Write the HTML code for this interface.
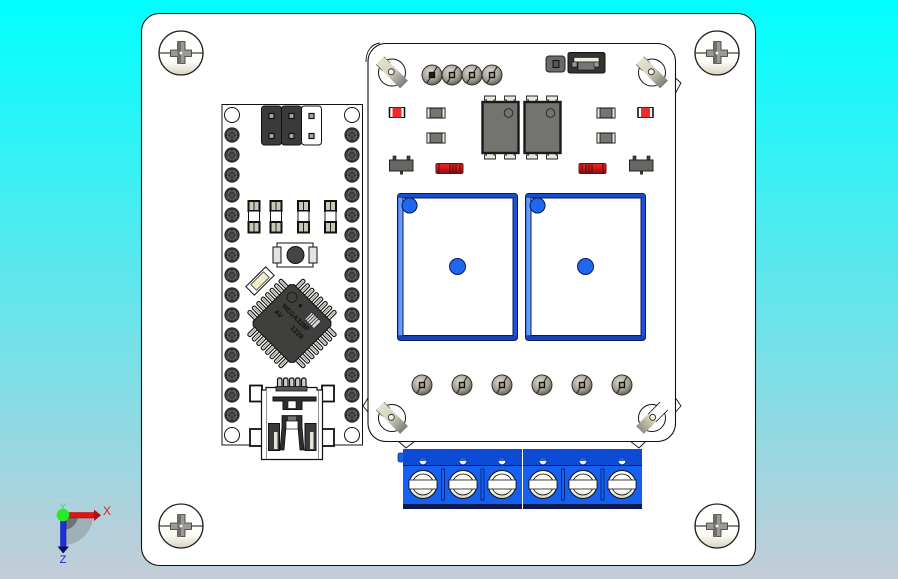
<!DOCTYPE html>
<html><head><meta charset="utf-8"><style>
html,body{margin:0;padding:0;background:#fff}
svg{display:block}
text{font-family:"Liberation Sans",sans-serif}
</style></head><body>
<svg width="898" height="579" viewBox="0 0 898 579" xmlns="http://www.w3.org/2000/svg">
<defs>
<linearGradient id="bg" x1="0" y1="0" x2="0" y2="1"><stop offset="0" stop-color="#00ffff"/><stop offset="1" stop-color="#c4ccd8"/></linearGradient>
<linearGradient id="head" x1="0" y1="0" x2="0" y2="1"><stop offset="0" stop-color="#fff"/><stop offset=".7" stop-color="#fdfdf8"/><stop offset="1" stop-color="#d8d2c0"/></linearGradient>
<radialGradient id="sm" cx=".42" cy=".35" r=".72"><stop offset="0" stop-color="#e2ded4"/><stop offset=".55" stop-color="#a8a498"/><stop offset="1" stop-color="#55524a"/></radialGradient>
<linearGradient id="tape" x1="0" y1="0" x2="0" y2="1"><stop offset="0" stop-color="#e2e2cc"/><stop offset=".45" stop-color="#d4d4c0"/><stop offset="1" stop-color="#7c7c76"/></linearGradient>
<linearGradient id="tape2" x1="0" y1="0" x2="0" y2="1"><stop offset="0" stop-color="#fff"/><stop offset=".45" stop-color="#fff"/><stop offset=".5" stop-color="#dcdabc"/><stop offset="1" stop-color="#8e8e86"/></linearGradient>
<linearGradient id="red" x1="0" y1="0" x2="0" y2="1"><stop offset="0" stop-color="#d03030"/><stop offset=".4" stop-color="#e01818"/><stop offset="1" stop-color="#801010"/></linearGradient>

<g id="bigscrew">
<circle r="22" fill="url(#head)" stroke="#222" stroke-width="1.3"/>
<path d="M-22 0H22" stroke="#111" stroke-width="1"/>
<path d="M-3.500-11.500H4V-3H10.500V3.500H4V10.500H-3.500V3.500H-10.500V-3H-3.500Z" fill="#9a9a94" stroke="#333" stroke-width=".8"/>
<path d="M-3.500-11.500H0V10.500H-3.500Z" fill="#6f6f68"/>
<circle cx="0" cy="0" r="1.500" fill="#eee"/>
</g>

<g id="pad">
<circle r="7.200" fill="#3c3c3a" stroke="#1c1c1c" stroke-width=".8"/>
<circle r="5" fill="#63635f"/>
<circle r="3.400" fill="#3a3a38"/>
<circle r="1.700" fill="#7a7a74"/>
<path d="M-7 0H7M0-7V7" stroke="#1c1c1c" stroke-width=".6"/>
</g>
<circle id="hole" r="7.500" fill="#fff" stroke="#111" stroke-width="1"/>

<g id="smd">
<rect x="-5.500" y="-16" width="11" height="10" fill="#c8c8b8" stroke="#111" stroke-width="2"/>
<rect x="-5.500" y="-6" width="11" height="11" fill="#fff" stroke="#111" stroke-width="1"/>
<rect x="-5.500" y="5" width="11" height="10.500" fill="#c8c8b8" stroke="#111" stroke-width="2"/>
<path d="M0-15V-7M0 6V15" stroke="#222"/>
</g>

<g id="qpin"><rect x="-1.900" y="-39.500" width="3.800" height="13" rx="1.600" fill="#eeeee6" stroke="#111" stroke-width="1.100"/><path d="M0-38V-30" stroke="#777" stroke-width=".7"/></g>
<g id="qrow">
<use href="#qpin" x="-22"/><use href="#qpin" x="-15.700"/><use href="#qpin" x="-9.400"/><use href="#qpin" x="-3.100"/><use href="#qpin" x="3.100"/><use href="#qpin" x="9.400"/><use href="#qpin" x="15.700"/><use href="#qpin" x="22"/>
</g>

<g id="sm10">
<circle r="10" fill="url(#sm)" stroke="#2e2e2a" stroke-width="1"/>
<path d="M-5 8 L5-8" stroke="#1c1c1c" stroke-width="1"/>
<rect x="-2.500" y="-2.500" width="5" height="5" fill="#a8a49a" stroke="#111" stroke-width="1.400"/>
</g>
<g id="sm10d">
<circle r="10" fill="url(#sm)" stroke="#2e2e2a" stroke-width="1"/>
<path d="M-5 8 L5-8" stroke="#1c1c1c" stroke-width="1"/>
<rect x="-2.500" y="-2.500" width="5" height="5" fill="#222" stroke="#111" stroke-width="1.400"/>
</g>

<g id="clip">
<circle r="13.500" fill="#fff" stroke="#111" stroke-width="1"/>
<rect x="-5.500" y="-17" width="11" height="34" fill="url(#tape)"/>
<path d="M-5.500-17V-8M5.500-17V-8" stroke="#555" stroke-width=".6"/>
<circle r="3" fill="#f4f4e8" stroke="#222" stroke-width=".8" transform="translate(0,-1)"/>
</g>
<g id="clip2">
<circle r="13.500" fill="#fff" stroke="#111" stroke-width="1"/>
<rect x="-5.500" y="-17" width="11" height="34" fill="url(#tape2)"/>
<path d="M-5.500-17V0M5.500-17V0" stroke="#111" stroke-width=".8"/>
<circle r="3" fill="#f4f4e8" stroke="#222" stroke-width=".8" transform="translate(0,-1)"/>
</g>

<g id="cap">
<rect x="-9" y="-5" width="18" height="10" fill="#757571" stroke="#111" stroke-width="1"/>
<rect x="-9" y="-5" width="3" height="10" fill="#e8e8dc" stroke="#111" stroke-width=".8"/>
<rect x="6" y="-5" width="3" height="10" fill="#e8e8dc" stroke="#111" stroke-width=".8"/>
</g>

<g id="led">
<rect x="-7.500" y="-5" width="15" height="10" fill="#fff" stroke="#111" stroke-width="1"/>
<rect x="-4.500" y="-5" width="9" height="10" fill="#ef2a2a"/>
<path d="M-7.500-5V5M7.500-5V5" stroke="#111" stroke-width="1.600"/>
</g>

<g id="opto">
<path d="M3-6H14V-2H12.500V1H5V-2H3Z M23-6H34V-2H32.500V1H25V-2H23Z" fill="#e8e8dc" stroke="#222" stroke-width=".9"/>
<path d="M5 50H12.500V53H14V57H3V53H5Z M25 50H32.500V53H34V57H23V53H25Z" fill="#e8e8dc" stroke="#222" stroke-width=".9"/>
<rect x="1" y="0" width="36" height="51" fill="#73736f" stroke="#1a1a1a" stroke-width="2.400"/>
<circle cx="27" cy="11" r="4.300" fill="none" stroke="#222" stroke-width=".9"/>
</g>

<g id="tran">
<rect x="4" y="-4" width="3" height="4" fill="#444" stroke="#111" stroke-width=".6"/>
<rect x="18" y="-4" width="3" height="4" fill="#444" stroke="#111" stroke-width=".6"/>
<rect x="11" y="11" width="3" height="3.500" fill="#333"/>
<rect x="0.500" y="0" width="23.500" height="11" fill="#666662" stroke="#222" stroke-width="1"/>
</g>

<g id="diode">
<rect x="0" y="0" width="27" height="10" rx="1.500" fill="url(#red)" stroke="#6a1010" stroke-width="1"/>
<path d="M3 0V10M24 0V10M14 0V10M17 0V10M20 0V10" stroke="#4a0c0c" stroke-width="1"/>
</g>

<g id="relay">
<rect x="0" y="0" width="120" height="147" rx="3" fill="#1d50d8" stroke="#0a1a60" stroke-width="1"/>
<rect x="5.500" y="4.500" width="110" height="137.500" fill="#fff" stroke="#0a1a60" stroke-width="1"/>
<rect x="1" y="142.500" width="118" height="3.500" fill="#1440b8"/>
<rect x="1" y="1" width="118" height="3" fill="#1a4cc8"/>
<circle cx="12" cy="12" r="7.500" fill="#1f66f0" stroke="#0a1a60" stroke-width="1"/>
<circle cx="60" cy="73" r="8" fill="#1f66f0" stroke="#0a1a60" stroke-width="1"/>
</g>

<g id="tscrew">
<circle r="14" fill="url(#head)" stroke="#111" stroke-width="1"/>
<path d="M-9.500-4.500A10.500 10.500 0 0 1 9.500-4.500M-9.500 4.500A10.500 10.500 0 0 0 9.500 4.500" fill="none" stroke="#111" stroke-width=".8"/>
<rect x="-14" y="-4.500" width="28" height="9" fill="#fff" stroke="#111" stroke-width=".8"/>
</g>

<g id="thole">
<circle r="3.800" fill="#fff" stroke="#0a2a90" stroke-width=".8"/>
<path d="M-3.800 0A3.800 3.800 0 0 1 3.800 0Z" fill="#2060d8"/>
</g>

<g id="term">
<rect x="0" y="0" width="119" height="60" fill="#1560ee"/>
<rect x="0" y="0" width="119" height="16" fill="#0d4bd4"/>
<path d="M0 16.500H119" stroke="#0a1a60" stroke-width="1"/>
<rect x="0" y="55" width="119" height="5" fill="#0a1a4e"/>
<use href="#thole" x="20" y="12"/><use href="#thole" x="60" y="12"/><use href="#thole" x="99" y="12"/>
<use href="#tscrew" x="20" y="35.500"/><use href="#tscrew" x="60" y="35.500"/><use href="#tscrew" x="99" y="35.500"/>
<rect x="38.500" y="20" width="3" height="31" fill="#1560ee" stroke="#0a1a60" stroke-width=".8"/>
<rect x="78" y="20" width="3" height="31" fill="#1560ee" stroke="#0a1a60" stroke-width=".8"/>
</g>
</defs>

<rect width="898" height="579" fill="url(#bg)"/>

<!-- plate -->
<rect x="141.500" y="13.500" width="614" height="552" rx="18" fill="#fff" stroke="#111" stroke-width="1.100"/>
<use href="#bigscrew" x="181" y="53"/>
<use href="#bigscrew" x="717" y="53"/>
<use href="#bigscrew" x="181" y="526"/>
<use href="#bigscrew" x="717" y="526"/>

<!-- nano -->
<rect x="222" y="104.500" width="140.500" height="340.500" fill="#fff" stroke="#111" stroke-width="1"/>
<use href="#hole" x="232" y="115"/><use href="#hole" x="352" y="115"/>
<use href="#hole" x="232" y="435"/><use href="#hole" x="352" y="435"/>
<use href="#pad" x="232" y="135"/><use href="#pad" x="352" y="135"/>
<use href="#pad" x="232" y="155"/><use href="#pad" x="352" y="155"/>
<use href="#pad" x="232" y="175"/><use href="#pad" x="352" y="175"/>
<use href="#pad" x="232" y="195"/><use href="#pad" x="352" y="195"/>
<use href="#pad" x="232" y="215"/><use href="#pad" x="352" y="215"/>
<use href="#pad" x="232" y="235"/><use href="#pad" x="352" y="235"/>
<use href="#pad" x="232" y="255"/><use href="#pad" x="352" y="255"/>
<use href="#pad" x="232" y="275"/><use href="#pad" x="352" y="275"/>
<use href="#pad" x="232" y="295"/><use href="#pad" x="352" y="295"/>
<use href="#pad" x="232" y="315"/><use href="#pad" x="352" y="315"/>
<use href="#pad" x="232" y="335"/><use href="#pad" x="352" y="335"/>
<use href="#pad" x="232" y="355"/><use href="#pad" x="352" y="355"/>
<use href="#pad" x="232" y="375"/><use href="#pad" x="352" y="375"/>
<use href="#pad" x="232" y="395"/><use href="#pad" x="352" y="395"/>
<use href="#pad" x="232" y="415"/><use href="#pad" x="352" y="415"/>

<!-- pin header -->
<rect x="261.500" y="106" width="20" height="39" rx="3" fill="#3a3a3a" stroke="#111"/>
<rect x="281.500" y="106" width="20" height="39" rx="3" fill="#3a3a3a" stroke="#111"/>
<rect x="301.500" y="106" width="20" height="39" rx="3" fill="#fff" stroke="#111"/>
<g fill="#a8a8a0" stroke="#111" stroke-width="1.200">
<rect x="269" y="113.500" width="5" height="5"/><rect x="289" y="113.500" width="5" height="5"/><rect x="309" y="113.500" width="5" height="5"/>
<rect x="269" y="133.500" width="5" height="5"/><rect x="289" y="133.500" width="5" height="5"/><rect x="309" y="133.500" width="5" height="5"/>
</g>

<use href="#smd" x="254" y="217"/>
<use href="#smd" x="276" y="217"/>
<use href="#smd" x="303.500" y="217"/>
<use href="#smd" x="330.500" y="217"/>

<!-- button -->
<rect x="277" y="243" width="36" height="24" fill="#fff" stroke="#111"/>
<rect x="273" y="247" width="8" height="16" fill="#e4e4dc" stroke="#111"/>
<rect x="309" y="247" width="8" height="16" fill="#e4e4dc" stroke="#111"/>
<circle cx="295.500" cy="255" r="8.500" fill="#444" stroke="#111" stroke-width="1"/>

<!-- small connector -->
<g transform="translate(260,281) rotate(-45)">
<rect x="-14" y="-6" width="28" height="12" fill="#fff" stroke="#111"/>
<rect x="-9" y="-4" width="18" height="8" fill="#f4efc8" stroke="#333" stroke-width=".8"/>
</g>

<!-- chip -->
<g transform="translate(292,323.500) rotate(45)">
<use href="#qrow"/>
<use href="#qrow" transform="rotate(90)"/>
<use href="#qrow" transform="rotate(180)"/>
<use href="#qrow" transform="rotate(270)"/>
<path d="M-26-29H26L29-26V26L26 29H-26L-29 26V-26Z" fill="#3f3f3d" stroke="#111" stroke-width="1"/>
<circle cx="-18.500" cy="-18.500" r="5" fill="none" stroke="#111" stroke-width=".7"/>
<text x="-19.500" y="-4.500" font-size="7" fill="#111" font-weight="bold" textLength="36" lengthAdjust="spacingAndGlyphs">MEGA328P</text>
<text x="-21" y="5" font-size="7" fill="#111" font-weight="bold">AV</text>
<text x="2" y="5" font-size="7" fill="#111" font-weight="bold">1228</text>
<path d="M-9-18.500L-5.500-21V-16Z" fill="#111"/>
<rect x="6" y="-22" width="13" height="10" fill="#d8d8d8" stroke="#111" stroke-width=".5"/>
<path d="M8-22V-12M10.500-22V-12M13-22V-12M15.500-22V-12" stroke="#111" stroke-width=".7"/>
</g>

<!-- USB -->
<g stroke="#111" fill="#fff">
<rect x="250" y="385.500" width="12" height="16" stroke-width="1.800"/>
<rect x="250" y="429" width="12" height="17" stroke-width="1.800"/>
<rect x="322" y="385.500" width="12" height="16" stroke-width="1.800"/>
<rect x="322" y="429" width="12" height="17" stroke-width="1.800"/>
<rect x="277.500" y="378" width="4.500" height="11" rx="1.800" fill="#ccc" stroke-width="1.200"/>
<rect x="283.500" y="378" width="4.500" height="11" rx="1.800" fill="#ccc" stroke-width="1.200"/>
<rect x="289.500" y="378" width="4.500" height="11" rx="1.800" fill="#ccc" stroke-width="1.200"/>
<rect x="295.500" y="378" width="4.500" height="11" rx="1.800" fill="#ccc" stroke-width="1.200"/>
<rect x="301.500" y="378" width="4.500" height="11" rx="1.800" fill="#ccc" stroke-width="1.200"/>
<path d="M266 390V387.500H317V390H322.500V459.500H261.500V390Z" stroke-width="1.200"/>
<path d="M266.500 391V459M318.500 391V459" stroke-width=".7" stroke="#666"/>
<rect x="276" y="386.500" width="31" height="4.500" fill="#555" stroke-width=".8"/>
</g>
<path d="M273 397H316V401H302V409.500H283V401H273Z" fill="#2e2e2e" stroke="#111"/>
<rect x="288" y="401" width="8" height="7.500" fill="#fff" stroke="#111" stroke-width=".6"/>
<rect x="268.500" y="423.500" width="11" height="27" fill="#3a3a3a" stroke="#111"/>
<rect x="274" y="432" width="3.500" height="17" fill="#e4e4dc"/>
<rect x="305" y="423.500" width="11" height="27" fill="#3a3a3a" stroke="#111"/>
<rect x="310" y="432" width="3.500" height="17" fill="#e4e4dc"/>
<path d="M282 427V415.500H302V427L304 450H300L298 427H286L284 450H280Z" fill="#2e2e2e" stroke="#111" stroke-width=".8"/>
<rect x="286" y="421" width="12" height="8" fill="#fff" stroke="#111" stroke-width=".7"/>
<rect x="288" y="416.500" width="8" height="4" fill="#777"/>

<!-- relay board tabs -->
<g fill="#fff" stroke="#111" stroke-width=".9">
<path d="M675.500 398L681 406L675.500 412"/>
<path d="M675.500 78L681 83L675.500 93"/>
<path d="M368 398L363 406L368 412"/>
<path d="M398 441L406 448L415 441"/>
<path d="M630 441L639 448L646 441"/>
<path d="M366 62C366 50 372 44 380 43"/>
</g>
<rect x="368" y="43.500" width="307.500" height="398" rx="18" fill="#fff" stroke="#111" stroke-width="1.100"/>

<use href="#clip" transform="translate(392,72.500) rotate(-45)"/>
<use href="#clip" transform="translate(652,72.500) rotate(-45)"/>
<use href="#clip" transform="translate(392,418) rotate(-45)"/>
<use href="#clip2" transform="translate(652,418) rotate(45)"/>

<use href="#sm10d" x="432" y="75"/><use href="#sm10" x="452" y="75"/><use href="#sm10" x="472" y="75"/><use href="#sm10" x="492" y="75"/>

<!-- jumper -->
<rect x="546" y="56" width="19" height="16" rx="3" fill="#6a6a66" stroke="#222"/>
<rect x="553" y="60.500" width="6" height="7" fill="#555" stroke="#111"/>
<rect x="568" y="52.500" width="37" height="20.500" rx="2" fill="#333331" stroke="#111"/>
<rect x="574" y="57.500" width="25" height="4.500" fill="#eeeede" stroke="#111" stroke-width=".6"/>
<rect x="578" y="62" width="17" height="8" fill="#777" stroke="#111" stroke-width=".6"/>
<rect x="572" y="62" width="5" height="5" fill="#999" stroke="#111" stroke-width=".6"/>
<rect x="594" y="62" width="5" height="5" fill="#999" stroke="#111" stroke-width=".6"/>

<use href="#led" x="397" y="112.500"/>
<use href="#led" x="645.500" y="112.500"/>
<use href="#cap" x="436" y="113"/>
<use href="#cap" x="436" y="138"/>
<use href="#cap" x="606" y="113"/>
<use href="#cap" x="606" y="138"/>
<use href="#opto" x="481.500" y="102"/>
<use href="#opto" x="523.500" y="102"/>
<use href="#tran" x="389" y="160"/>
<use href="#tran" x="629" y="160"/>
<use href="#diode" x="436" y="163.500"/>
<use href="#diode" transform="translate(606,163.500) scale(-1,1)"/>

<use href="#relay" x="397.500" y="193.500"/>
<use href="#relay" x="525.500" y="193.500"/>
<rect x="398.500" y="198" width="4" height="137" fill="#6a9cf6"/>
<rect x="526.500" y="198" width="4" height="137" fill="#6a9cf6"/>
<circle cx="409.500" cy="205.500" r="7.500" fill="#1f66f0" stroke="#0a1a60" stroke-width="1"/>
<circle cx="537.500" cy="205.500" r="7.500" fill="#1f66f0" stroke="#0a1a60" stroke-width="1"/>

<use href="#sm10" x="422" y="385"/><use href="#sm10" x="462" y="385"/><use href="#sm10" x="502" y="385"/>
<use href="#sm10" x="542" y="385"/><use href="#sm10" x="582" y="385"/><use href="#sm10" x="622" y="385"/>

<!-- terminals -->
<rect x="398" y="453" width="6" height="9" rx="2" fill="#1560ee" stroke="#0a2a90" stroke-width=".8"/>
<use href="#term" x="403" y="449"/>
<use href="#term" x="523" y="449"/>

<!-- triad -->
<path d="M63 515H93A30 30 0 0 1 63 545Z" fill="#9aa6ac" opacity=".8"/>
<path d="M63 515H78A15 15 0 0 1 63 530Z" fill="#6b7478"/>
<rect x="66" y="512.500" width="28" height="5.500" fill="#e81010" stroke="#901010" stroke-width=".5"/>
<path d="M94 509.500L101 515.200L94 521Z" fill="#b01010"/>
<rect x="60.500" y="520" width="5.500" height="27" fill="#1a30e0" stroke="#101080" stroke-width=".5"/>
<path d="M57.500 546.500H69L63.200 553.500Z" fill="#101060"/>
<circle cx="63" cy="515" r="6.300" fill="#22ee22"/>
<text x="107" y="515" font-size="12" fill="#e02020" text-anchor="middle">X</text>
<text x="63" y="563" font-size="11" fill="#2020d0" text-anchor="middle">Z</text>
<text x="63" y="510" font-size="9" fill="#60c060" text-anchor="middle">Y</text>
</svg>
</body></html>
